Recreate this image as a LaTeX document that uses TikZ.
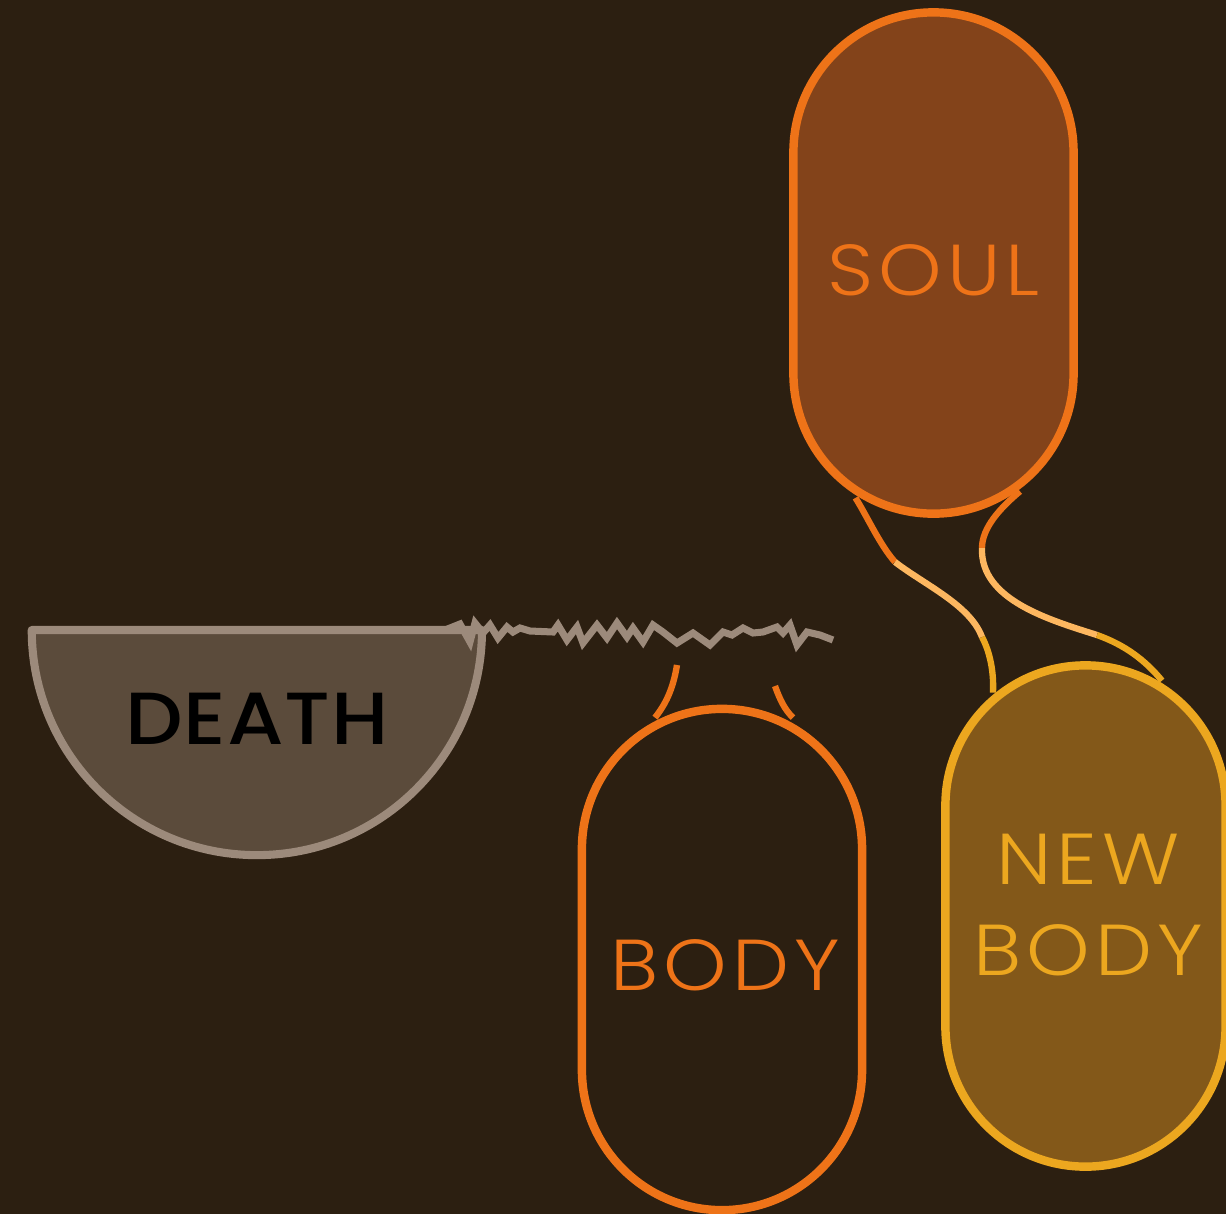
\documentclass[tikz,border=0pt]{standalone}
\usepackage{fontspec}
\setmainfont{Poppins}
\newfontfamily\thinfont{Poppins}[UprightFont=* Light, LetterSpace=7, FakeStretch=1.12]
\newfontfamily\deathfont{Poppins}[UprightFont=* Medium, LetterSpace=1, FakeStretch=1.1]
\usetikzlibrary{calc}

\definecolor{bgbrown}{HTML}{2C1F11}
\definecolor{soulorange}{HTML}{EE7318}
\definecolor{soulfill}{HTML}{83431A}
\definecolor{newgold}{HTML}{ECA71F}
\definecolor{newfill}{HTML}{835819}
\definecolor{paleband}{HTML}{FDB760}
\definecolor{deathfill}{HTML}{5B4B3B}
\definecolor{deathline}{HTML}{9C8A7B}

\begin{document}
\begin{tikzpicture}[
    x=0.01cm, y=-0.01cm,
    line cap=butt,
    line join=round,
    capsule/.style={draw, line width=2.4pt, rounded corners=1.4cm,
        minimum width=2.8cm, minimum height=5.01cm, inner sep=0pt},
    tag/.style={inner sep=0pt, font=\thinfont\fontsize{20.5}{25.6}\selectfont, align=center},
    cord/.style={line width=1.8pt},
    crack/.style={draw=deathline, line width=2pt, line join=miter}
]

% -------------------------------------------------
% Background
% -------------------------------------------------

\fill[bgbrown] (0,0) rectangle (1226,1214);
\useasboundingbox (0,0) rectangle (1226,1214);
\clip (0,0) rectangle (1226,1214);

% -------------------------------------------------
% Death: half disk with a crack running right
% -------------------------------------------------

\draw[fill=deathfill, draw=deathline, line width=2.3pt]
    (482,630) arc[start angle=0, end angle=-180, radius=2.25cm] -- cycle;
\node[inner sep=0pt, font=\deathfont\fontsize{21}{25}\selectfont] (death) at (257,719) {DEATH};

\coordinate (crackstart) at (445,630);
\draw[crack] (crackstart) -- (460,624) -- (470,642) -- (475,623) -- (483,633)
    -- (490,625) -- (498,638) -- (507,627) -- (513,632) -- (520,628)
    -- (530,631) -- (553,632) -- (558,625) -- (567,640) -- (577,627)
    -- (583,643) -- (597,625) -- (607,638) -- (617,623) -- (627,637)
    -- (633,628) -- (643,642) -- (653,625) -- (663,632) -- (677,643)
    -- (693,633) -- (710,645) -- (723,632) -- (732,635) -- (743,628)
    -- (753,633) -- (763,632) -- (777,627) -- (783,633) -- (790,625)
    -- (797,645) -- (807,632) -- (820,635) -- (833,640);

% -------------------------------------------------
% Capsules
% -------------------------------------------------

\node[capsule, draw=soulorange, fill=soulfill] (soul) at (933.5,263) {};
\node[capsule, draw=soulorange, fill=bgbrown] (body) at (722,959.5) {};
\node[capsule, draw=newgold, fill=newfill] (newbody) at (1085.5,916) {};

\node[tag, text=soulorange] (soultext) at ($(soul)+(0,7)$) {SOUL};
\node[tag, text=soulorange] (bodytext) at ($(body)+(3,5.5)$) {BODY};
\node[tag, text=newgold] (newtext) at ($(newbody)+(2.5,-11)$) {NEW\\BODY};

% -------------------------------------------------
% Cords from soul to new body (orange, pale, gold)
% -------------------------------------------------

\coordinate (soulL) at ($(soul.south)+(-78,-20)$);
\coordinate (soulR) at ($(soul.south)+(86.5,-26.5)$);
\coordinate (newL) at ($(newbody.north)+(-92.5,31.5)$);
\coordinate (newR) at ($(newbody.north)+(76.5,19.5)$);

\draw[cord, soulorange] (soulL) .. controls (868,518) and (880,545) .. (895,562) coordinate (l1);
\draw[cord, paleband] (l1) .. controls (925,585) and (970,605) .. (982,637) coordinate (l2);
\draw[cord, newgold] (l2) .. controls (990,652) and (994,672) .. (newL);

\draw[cord, soulorange] (soulR) .. controls (1000,508) and (982,528) .. (982,548) coordinate (r1);
\draw[cord, paleband] (r1) .. controls (980,600) and (1050,620) .. (1097,635) coordinate (r2);
\draw[cord, newgold] (r2) .. controls (1125,645) and (1145,660) .. (newR);

% -------------------------------------------------
% Loose ends on top of the body
% -------------------------------------------------

\coordinate (tipL) at (677,665);
\coordinate (tipR) at (775,686);
\draw[cord, soulorange] (tipL) .. controls (673,690) and (665,705) .. ($(body.north)+(-67,13)$);
\draw[cord, soulorange] (tipR) .. controls (780,700) and (785,710) .. ($(body.north)+(71,13)$);
\end{tikzpicture}
\end{document}
